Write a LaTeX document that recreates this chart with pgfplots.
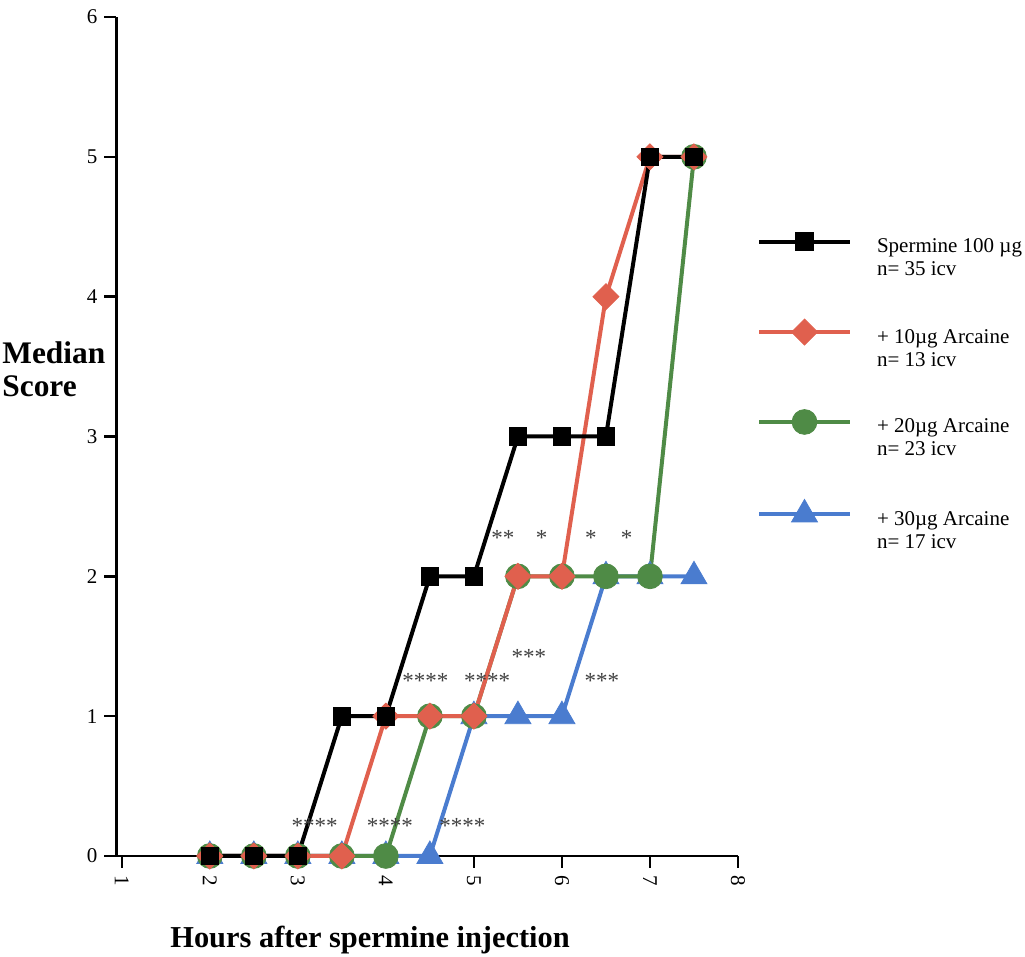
\documentclass[border=0pt]{standalone}
\usepackage{fontspec}
\setmainfont{Liberation Serif}
\usepackage{pgfplots}
\pgfplotsset{compat=1.18}
\definecolor{cred}{RGB}{224,96,78}
\definecolor{cgreen}{RGB}{79,139,70}
\definecolor{cblue}{RGB}{74,124,207}
\begin{document}
\begin{tikzpicture}
\useasboundingbox (-58.25pt,-50.5pt) rectangle (454.25pt,428pt);
\begin{axis}[
  scale only axis, width=310.75pt, height=419.5pt,
  xmin=0.94, xmax=8, ymin=0, ymax=6,
  axis x line*=bottom, axis y line*=left,
  axis line style={-, line width=1.2pt},
  xtick={1,...,8}, ytick={0,...,6},
  tick align=outside, major tick length=6pt,
  tick style={line width=1.2pt, black},
  /pgf/number format/assume math mode=true,
  ticklabel style={font=\fontsize{10.5}{12}\selectfont},
  xticklabel style={rotate=-90, anchor=west},
  clip=false,
  reverse legend,
  legend style={draw=none, fill=none, at={(1.0306,0.7432)}, anchor=north west,
    inner sep=0pt, outer sep=0pt, row sep=29.75pt, column sep=10.5pt,
    font=\fontsize{10.5}{11.5}\selectfont,
    cells={anchor=base west, inner sep=0pt}},
  legend image code/.code={\draw[mark repeat=2,mark phase=2,#1] plot coordinates {(0pt,5.5pt) (22.75pt,5.5pt) (45.5pt,5.5pt)};},
]
\addplot[cblue, line width=2pt, mark=triangle*, mark size=7.5pt, mark options={solid, fill=cblue, line width=0.4pt}]
  coordinates {(2,0)(2.5,0)(3,0)(3.5,0)(4,0)(4.5,0)(5,1)(5.5,1)(6,1)(6.5,2)(7,2)(7.5,2)};
\addlegendentry{\begin{tabular}[t]{@{}l@{}}+ 30µg Arcaine\\n= 17 icv\end{tabular}}
\addplot[cgreen, line width=2pt, mark=*, mark size=6.2pt, mark options={solid, fill=cgreen, line width=0.4pt}]
  coordinates {(2,0)(2.5,0)(3,0)(3.5,0)(4,0)(4.5,1)(5,1)(5.5,2)(6,2)(6.5,2)(7,2)(7.5,5)};
\addlegendentry{\begin{tabular}[t]{@{}l@{}}+ 20µg Arcaine\\n= 23 icv\end{tabular}}
\addplot[cred, line width=2pt, mark=square*, mark size=4.6pt, mark options={solid, rotate=45, fill=cred, line width=0.4pt}]
  coordinates {(2,0)(2.5,0)(3,0)(3.5,0)(4,1)(4.5,1)(5,1)(5.5,2)(6,2)(6.5,4)(7,5)(7.5,5)};
\addlegendentry{\begin{tabular}[t]{@{}l@{}}+ 10µg Arcaine\\n= 13 icv\end{tabular}}
\addplot[black, line width=2pt, mark=square*, mark size=4.4pt, mark options={solid, fill=black, line width=0.4pt}]
  coordinates {(2,0)(2.5,0)(3,0)(3.5,1)(4,1)(4.5,2)(5,2)(5.5,3)(6,3)(6.5,3)(7,5)(7.5,5)};
\addlegendentry{\begin{tabular}[t]{@{}l@{}}Spermine 100 µg\\n= 35 icv\end{tabular}}

\begin{scope}[every node/.style={anchor=base, inner sep=0pt, font=\fontsize{11.5}{13}\selectfont, text=black!75}]
\node at (axis cs:3.19,0.164) {****};
\node at (axis cs:4.045,0.164) {****};
\node at (axis cs:4.87,0.164) {****};
\node at (axis cs:4.45,1.201) {****};
\node at (axis cs:5.15,1.201) {****};
\node at (axis cs:5.625,1.373) {***};
\node at (axis cs:6.455,1.201) {***};
\node at (axis cs:5.33,2.224) {**};
\node at (axis cs:5.77,2.224) {*};
\node at (axis cs:6.33,2.224) {*};
\node at (axis cs:6.735,2.224) {*};
\end{scope}

\node[anchor=base west, inner sep=0pt, font=\fontsize{15.7}{17}\selectfont\bfseries] at ([xshift=-57.25pt,yshift=246pt]rel axis cs:0,0) {Median};
\node[anchor=base west, inner sep=0pt, font=\fontsize{15.7}{17}\selectfont\bfseries] at ([xshift=-57.25pt,yshift=229.5pt]rel axis cs:0,0) {Score};
\node[anchor=base west, inner sep=0pt, font=\fontsize{15.2}{17}\selectfont\bfseries] at ([xshift=26.75pt,yshift=-46pt]rel axis cs:0,0) {Hours after spermine injection};
\end{axis}
\end{tikzpicture}
\end{document}
